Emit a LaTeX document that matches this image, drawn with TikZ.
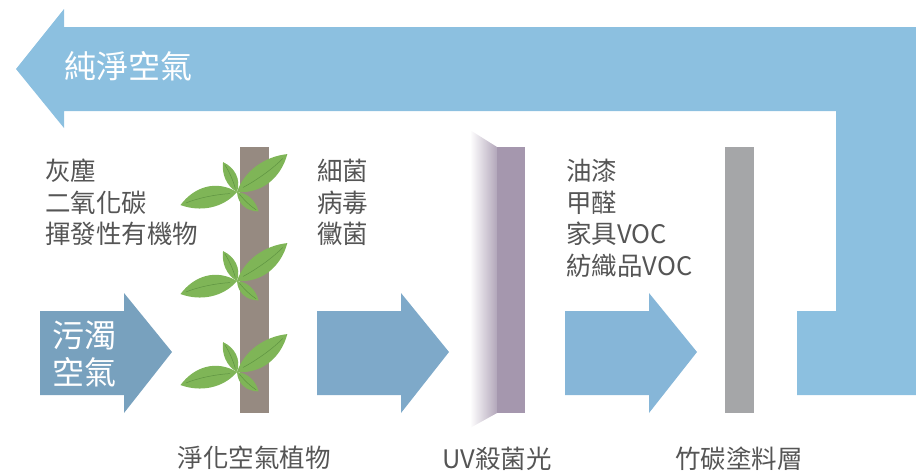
\documentclass[tikz,border=0pt]{standalone}
\usepackage{fontspec}
\setmainfont{Noto Sans CJK TC}
\definecolor{topblue}{HTML}{8CC0E0}
\definecolor{dirtyblue}{HTML}{78A1BE}
\definecolor{midblue}{HTML}{7EA9C9}
\definecolor{thirdblue}{HTML}{86B6D8}
\definecolor{stemcol}{HTML}{968A81}
\definecolor{uvpurple}{HTML}{A597AE}
\definecolor{carbon}{HTML}{A5A6A8}
\definecolor{leafgreen}{HTML}{7FB557}
\definecolor{leafvein}{HTML}{5F9442}
\definecolor{txtgray}{HTML}{555555}
\tikzset{
  lbl/.style={font=\fontsize{25.5}{30}\selectfont, text=txtgray, inner sep=0pt, anchor=west},
  wlbl/.style={font=\fontsize{32}{38}\selectfont, text=white, inner sep=0pt, anchor=west},
  blbl/.style={font=\fontsize{25.5}{30}\selectfont, text=txtgray, inner sep=0pt, anchor=center},
  leaf/.pic={
    \fill[leafgreen] (0,0) .. controls (0.3,0.62) and (0.7,0.55) .. (1,0)
                     .. controls (0.7,-0.42) and (0.3,-0.48) .. (0,0);
    \draw[leafvein, line width=0.5pt] (0.12,0.0) .. controls (0.4,0.1) and (0.7,0.1) .. (0.9,0.03);
  }
}
\newcommand{\leafcluster}[2]{%
  \pic[rotate=193, xscale=58, yscale=27] at (#1,#2) {leaf};
  \pic[rotate=37, xscale=63, yscale=27] at (#1,#2) {leaf};
  \pic[rotate=115, xscale=33, yscale=15] at (#1,#2) {leaf};
  \pic[rotate=-42, xscale=29, yscale=14] at (#1,#2) {leaf};
}
\begin{document}
\begin{tikzpicture}[x=1pt,y=-1pt]
\useasboundingbox (0,0) rectangle (916,475);

% big return arrow
\fill[topblue] (16,69) -- (64,9) -- (64,27) -- (916,27) -- (916,395) -- (797,395)
  -- (797,311) -- (836,311) -- (836,111) -- (64,111) -- (64,128) -- cycle;
\node[wlbl] (pure) at (64,66) {純淨空氣};

% dirty air arrow
\fill[dirtyblue] (40,311) -- (124,311) -- (124,293) -- (172,352) -- (124,413) -- (124,395) -- (40,395) -- cycle;
\node[wlbl] (dirty1) at (52,335) {污濁};
\node[wlbl] (dirty2) at (52,372) {空氣};

% second arrow
\fill[midblue] (317,311) -- (401,311) -- (401,293) -- (449,352) -- (401,413) -- (401,395) -- (317,395) -- cycle;

% third arrow
\fill[thirdblue] (565,311) -- (649,311) -- (649,293) -- (697,352) -- (649,413) -- (649,395) -- (565,395) -- cycle;

% plant
\fill[stemcol] (240,147) rectangle (269,413);
\leafcluster{237}{192}
\leafcluster{237}{281}
\leafcluster{237}{372}

% UV panel
\shade[left color=white, right color=uvpurple!85] (470,130) -- (497,147) -- (497,413) -- (470,428) -- cycle;
\fill[uvpurple] (497,147) rectangle (525,413);

% carbon panel
\fill[carbon] (725,147) rectangle (754,413);

% lists
\node[lbl] (l1) at (45,171) {灰塵};
\node[lbl] (l2) at (45,203) {二氧化碳};
\node[lbl] (l3) at (45,234) {揮發性有機物};

\node[lbl] (m1) at (317,171) {細菌};
\node[lbl] (m2) at (317,203) {病毒};
\node[lbl] (m3) at (317,234) {黴菌};

\node[lbl] (r1) at (566,171) {油漆};
\node[lbl] (r2) at (566,203) {甲醛};
\node[lbl] (r3) at (566,234) {家具VOC};
\node[lbl] (r4) at (566,266) {紡織品VOC};

% bottom labels
\node[blbl] (b1) at (254,458) {淨化空氣植物};
\node[blbl] (b2) at (497,459) {UV殺菌光};
\node[blbl] (b3) at (739,459) {竹碳塗料層};
\end{tikzpicture}
\end{document}
